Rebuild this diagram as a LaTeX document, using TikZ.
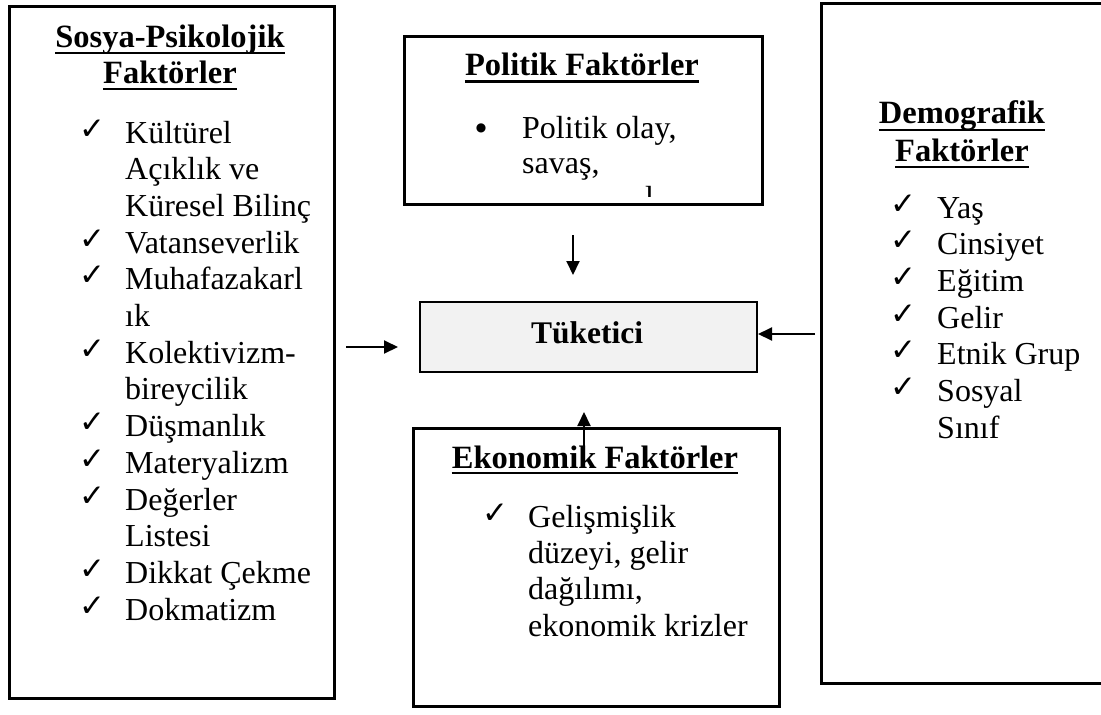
\documentclass[tikz,border=0pt]{standalone}
\usepackage{fontspec}
\setmainfont{Liberation Serif}
\newfontfamily\symfont{DejaVu Sans}
\usetikzlibrary{arrows.meta}
\tikzset{
  frame/.style={draw=black, line width=2.8pt, fill=white, inner sep=0pt, anchor=north west},
  corebox/.style={draw=black, line width=2pt, fill=gray!10, inner sep=0pt, anchor=north west},
  item/.style={inner sep=0pt, anchor=base west, font=\fontsize{32pt}{37pt}\selectfont},
  head/.style={inner sep=0pt, anchor=base, font=\fontsize{32.5pt}{38pt}\selectfont\bfseries},
  chk/.style={inner sep=0pt, anchor=base west, font=\symfont\fontsize{31pt}{33pt}\selectfont},
  dot/.style={inner sep=0pt, anchor=center, font=\symfont\fontsize{12pt}{14pt}\selectfont},
  uline/.style={line width=2.5pt},
  flow/.style={line width=2pt, -{Triangle[length=14pt,width=13pt]}}
}
\begin{document}
\begin{tikzpicture}[x=1pt,y=-1pt]
\useasboundingbox (0,0) rectangle (1101,715);

% frames
\node[frame, minimum width=325pt, minimum height=692pt] (sp) at (8,5) {};
\node[frame, minimum width=358pt, minimum height=168pt] (pol) at (403,35) {};
\node[corebox, minimum width=337pt, minimum height=70pt] (tk) at (419,301) {};
\node[frame, minimum width=366pt, minimum height=278pt] (eko) at (412,427) {};
\node[frame, minimum width=290pt, minimum height=680pt] (dem) at (820,2) {};

% central node
\node[inner sep=0pt, anchor=base, font=\fontsize{31.5pt}{36pt}\selectfont\bfseries] (tkt) at (587,343) {Tüketici};

% socio-psychological factors
\node[head] (sph1) at (170,47) {Sosya-Psikolojik};
\node[head] (sph2) at (170,83) {Faktörler};
\draw[uline] ([yshift=-6pt]sph1.base west) -- ([yshift=-6pt]sph1.base east);
\draw[uline] ([yshift=-6pt]sph2.base west) -- ([yshift=-6pt]sph2.base east);
\foreach \txt [count=\i] in {Kültürel, Açıklık ve, Küresel Bilinç, Vatanseverlik,
  Muhafazakarl, ık, Kolektivizm-, bireycilik, Düşmanlık, Materyalizm, Değerler,
  Listesi, Dikkat Çekme, Dokmatizm}
  \node[item] (sp-\i) at (125,{143+36.7*(\i-1)}) {\txt};
\foreach \i in {1,4,5,7,9,10,11,13,14}
  \node[chk] (spc-\i) at (79,{143+36.7*(\i-1)-4}) {✓};

% political factors
\node[head] (polh) at (582,75) {Politik Faktörler};
\draw[uline] ([yshift=-6.5pt]polh.base west) -- ([yshift=-6.5pt]polh.base east);
\node[dot] (pold) at (481,128) {●};
\node[item] (pol-1) at (522,138) {Politik olay,};
\node[item] (pol-2) at (522,173) {savaş,};
\begin{scope}
  \clip (405,37) rectangle (759,196);
  \node[item] (pol-3) at (645,208) {l};
\end{scope}

% economic factors
\node[head] (ekoh) at (595,468) {Ekonomik Faktörler};
\draw[uline] ([yshift=-5pt]ekoh.base west) -- ([yshift=-5pt]ekoh.base east);
\node[chk] (ekoc) at (482,523) {✓};
\foreach \txt [count=\i] in {Gelişmişlik, {düzeyi, gelir}, {dağılımı,}, ekonomik krizler}
  \node[item] (eko-\i) at (528,{527+36.4*(\i-1)}) {\txt};

% demographic factors
\node[head] (demh1) at (962,123) {Demografik};
\node[head] (demh2) at (962,161) {Faktörler};
\draw[uline] ([yshift=-7pt]demh1.base west) -- ([yshift=-7pt]demh1.base east);
\draw[uline] ([yshift=-6pt]demh2.base west) -- ([yshift=-6pt]demh2.base east);
\foreach \txt [count=\i] in {Yaş, Cinsiyet, Eğitim, Gelir, Etnik Grup, Sosyal, Sınıf}
  \node[item] (dem-\i) at (937,{218+36.7*(\i-1)}) {\txt};
\foreach \i in {1,...,6}
  \node[chk] (demc-\i) at (890,{218+36.7*(\i-1)-4}) {✓};

% influence arrows
\coordinate (downS) at (573,235);
\coordinate (downE) at (573,275);
\coordinate (leftS) at (346,347);
\coordinate (leftE) at (398,347);
\coordinate (rightS) at (815,334);
\coordinate (upS) at (584,457);
\coordinate (upE) at (584,412);
\draw[flow] (downS) -- (downE);
\draw[flow] (leftS) -- (leftE);
\draw[flow] (rightS) -- (rightS -| tk.east);
\draw[flow] (upS) -- (upE);
\end{tikzpicture}
\end{document}
